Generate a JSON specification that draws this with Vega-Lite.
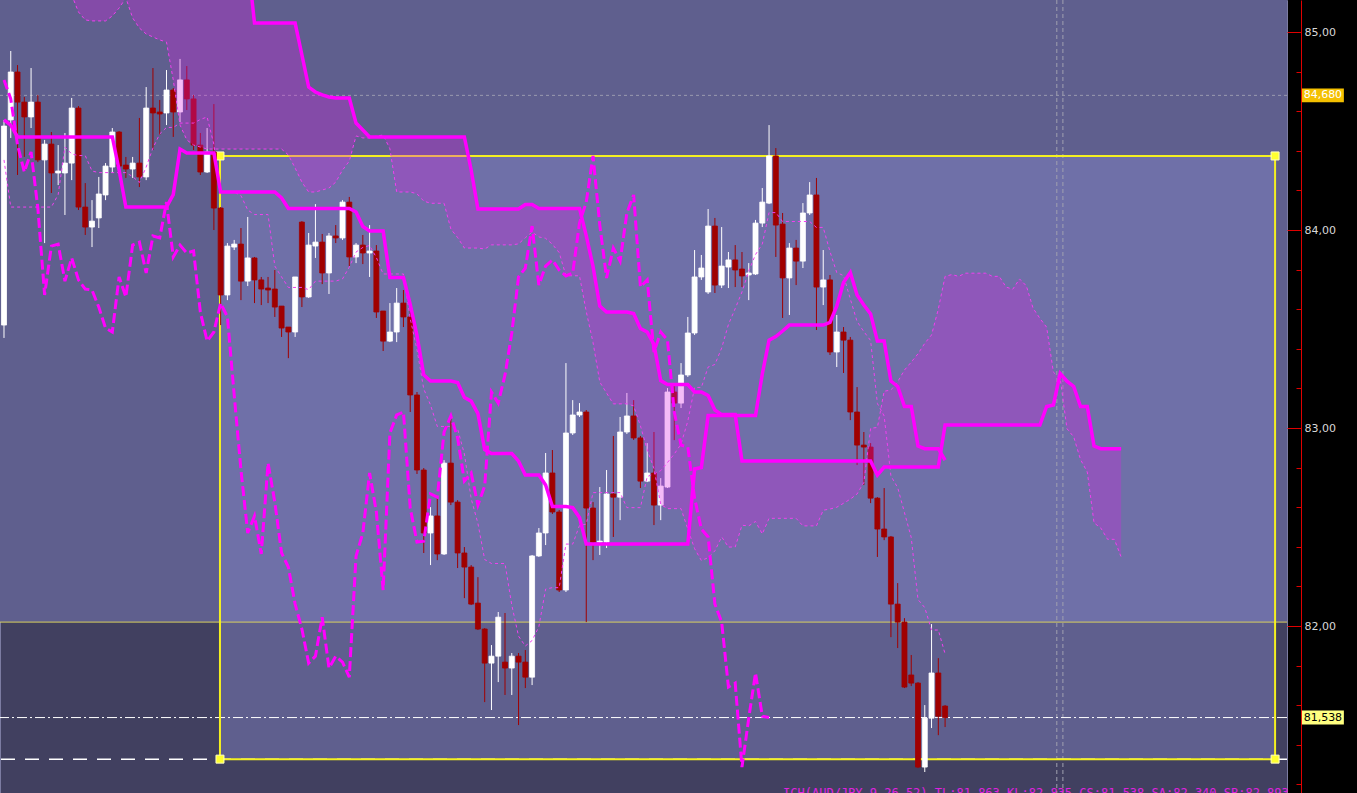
{
"$schema": "https://vega.github.io/schema/vega-lite/v6.json",
"width": 1287, "height": 793,
"autosize": {"type": "none"},
"padding": {"left": 0, "top": 0, "right": 70, "bottom": 0},
"background": "#000000",
"config": {"view": {"fill": "#414060", "stroke": "#7c7ca2", "strokeWidth": 1}},
"datasets": {
"zones": [
{"x1": -0.59, "x2": 189.5, "y1": 82.02, "y2": 85.3, "z": "mid"},
{"x1": 31.9, "x2": 187.74, "y1": 82.02, "y2": 84.374, "z": "light"},
{"x1": 31.9, "x2": 187.74, "y1": 81.328, "y2": 82.02, "z": "mid"}
],
"box": [{"x1": 31.9, "x2": 187.74, "y1": 81.328, "y2": 84.374}],
"handles": [{"i": 31.9, "p": 84.374}, {"i": 187.74, "p": 84.374}, {"i": 31.9, "p": 81.328}, {"i": 187.74, "p": 81.328}],
"vlines": [{"i": 155.5}, {"i": 156.4}],
"candles": [
{"i":0,"o":83.520,"h":84.556,"l":83.455,"c":84.525},
{"i":1,"o":84.556,"h":84.904,"l":84.465,"c":84.798},
{"i":2,"o":84.798,"h":84.833,"l":84.278,"c":84.646},
{"i":3,"o":84.646,"h":84.672,"l":84.369,"c":84.571},
{"i":4,"o":84.571,"h":84.818,"l":84.515,"c":84.646},
{"i":5,"o":84.646,"h":84.682,"l":84.343,"c":84.354},
{"i":6,"o":84.354,"h":84.455,"l":83.934,"c":84.434},
{"i":7,"o":84.434,"h":84.495,"l":84.187,"c":84.288},
{"i":8,"o":84.288,"h":84.429,"l":84.227,"c":84.298},
{"i":9,"o":84.288,"h":84.490,"l":84.076,"c":84.338},
{"i":10,"o":84.338,"h":84.667,"l":84.252,"c":84.616},
{"i":11,"o":84.616,"h":84.626,"l":84.101,"c":84.116},
{"i":12,"o":84.116,"h":84.237,"l":83.975,"c":84.015},
{"i":13,"o":84.015,"h":84.151,"l":83.914,"c":84.045},
{"i":14,"o":84.061,"h":84.268,"l":84.010,"c":84.182},
{"i":15,"o":84.177,"h":84.338,"l":84.151,"c":84.323},
{"i":16,"o":84.318,"h":84.515,"l":84.288,"c":84.495},
{"i":17,"o":84.495,"h":84.500,"l":84.278,"c":84.323},
{"i":18,"o":84.328,"h":84.369,"l":84.263,"c":84.308},
{"i":19,"o":84.308,"h":84.369,"l":84.263,"c":84.338},
{"i":20,"o":84.338,"h":84.566,"l":84.217,"c":84.268},
{"i":21,"o":84.268,"h":84.722,"l":84.252,"c":84.616},
{"i":22,"o":84.616,"h":84.818,"l":84.404,"c":84.591},
{"i":23,"o":84.596,"h":84.657,"l":84.480,"c":84.586},
{"i":24,"o":84.591,"h":84.808,"l":84.530,"c":84.707},
{"i":25,"o":84.707,"h":84.717,"l":84.470,"c":84.596},
{"i":26,"o":84.596,"h":84.864,"l":84.545,"c":84.758},
{"i":27,"o":84.758,"h":84.828,"l":84.606,"c":84.662},
{"i":28,"o":84.662,"h":84.682,"l":84.404,"c":84.429},
{"i":29,"o":84.429,"h":84.490,"l":84.278,"c":84.293},
{"i":30,"o":84.293,"h":84.515,"l":84.288,"c":84.394},
{"i":31,"o":84.394,"h":84.636,"l":84.000,"c":84.111},
{"i":32,"o":84.111,"h":84.116,"l":83.520,"c":83.672},
{"i":33,"o":83.672,"h":83.934,"l":83.646,"c":83.919},
{"i":34,"o":83.914,"h":83.950,"l":83.899,"c":83.929},
{"i":35,"o":83.929,"h":84.010,"l":83.646,"c":83.742},
{"i":36,"o":83.742,"h":84.066,"l":83.717,"c":83.859},
{"i":37,"o":83.859,"h":83.864,"l":83.631,"c":83.748},
{"i":38,"o":83.748,"h":83.763,"l":83.621,"c":83.702},
{"i":39,"o":83.707,"h":83.763,"l":83.631,"c":83.697},
{"i":40,"o":83.702,"h":83.798,"l":83.561,"c":83.611},
{"i":41,"o":83.616,"h":83.616,"l":83.460,"c":83.505},
{"i":42,"o":83.510,"h":83.510,"l":83.353,"c":83.485},
{"i":43,"o":83.485,"h":83.763,"l":83.460,"c":83.763},
{"i":44,"o":84.040,"h":84.045,"l":83.611,"c":83.662},
{"i":45,"o":83.662,"h":83.985,"l":83.657,"c":83.924},
{"i":46,"o":83.919,"h":84.131,"l":83.859,"c":83.939},
{"i":47,"o":83.939,"h":83.980,"l":83.727,"c":83.783},
{"i":48,"o":83.783,"h":83.985,"l":83.677,"c":83.970},
{"i":49,"o":83.970,"h":84.025,"l":83.934,"c":83.960},
{"i":50,"o":83.960,"h":84.151,"l":83.950,"c":84.141},
{"i":51,"o":84.141,"h":84.167,"l":83.818,"c":83.864},
{"i":52,"o":83.864,"h":83.934,"l":83.833,"c":83.924},
{"i":53,"o":83.924,"h":83.975,"l":83.828,"c":83.884},
{"i":54,"o":83.884,"h":84.025,"l":83.763,"c":83.894},
{"i":55,"o":83.894,"h":83.924,"l":83.556,"c":83.586},
{"i":56,"o":83.591,"h":83.591,"l":83.389,"c":83.439},
{"i":57,"o":83.439,"h":83.631,"l":83.434,"c":83.485},
{"i":58,"o":83.485,"h":83.707,"l":83.434,"c":83.631},
{"i":59,"o":83.631,"h":83.697,"l":83.510,"c":83.561},
{"i":60,"o":83.561,"h":83.596,"l":83.081,"c":83.167},
{"i":61,"o":83.167,"h":83.182,"l":82.768,"c":82.788},
{"i":62,"o":82.788,"h":82.798,"l":82.369,"c":82.470},
{"i":63,"o":82.470,"h":82.601,"l":82.308,"c":82.556},
{"i":64,"o":82.556,"h":82.651,"l":82.333,"c":82.364},
{"i":65,"o":82.364,"h":82.838,"l":82.359,"c":82.823},
{"i":66,"o":82.823,"h":83.056,"l":82.611,"c":82.626},
{"i":67,"o":82.626,"h":82.636,"l":82.293,"c":82.369},
{"i":68,"o":82.369,"h":82.399,"l":82.141,"c":82.298},
{"i":69,"o":82.298,"h":82.308,"l":82.106,"c":82.111},
{"i":70,"o":82.116,"h":82.247,"l":81.980,"c":81.985},
{"i":71,"o":81.985,"h":81.990,"l":81.616,"c":81.813},
{"i":72,"o":81.813,"h":81.904,"l":81.576,"c":81.848},
{"i":73,"o":81.848,"h":82.071,"l":81.717,"c":82.045},
{"i":74,"o":81.818,"h":82.066,"l":81.652,"c":81.788},
{"i":75,"o":81.788,"h":81.864,"l":81.652,"c":81.848},
{"i":76,"o":81.848,"h":81.864,"l":81.500,"c":81.818},
{"i":77,"o":81.818,"h":81.879,"l":81.687,"c":81.742},
{"i":78,"o":81.742,"h":82.359,"l":81.702,"c":82.354},
{"i":79,"o":82.354,"h":82.495,"l":82.349,"c":82.470},
{"i":80,"o":82.470,"h":82.874,"l":82.409,"c":82.773},
{"i":81,"o":82.773,"h":82.889,"l":82.566,"c":82.576},
{"i":82,"o":82.576,"h":82.586,"l":82.172,"c":82.182},
{"i":83,"o":82.182,"h":83.328,"l":82.172,"c":82.975},
{"i":84,"o":82.975,"h":83.141,"l":82.965,"c":83.066},
{"i":85,"o":83.066,"h":83.126,"l":83.056,"c":83.081},
{"i":86,"o":83.081,"h":83.091,"l":82.020,"c":82.596},
{"i":87,"o":82.596,"h":82.626,"l":82.333,"c":82.424},
{"i":88,"o":82.424,"h":82.702,"l":82.359,"c":82.429},
{"i":89,"o":82.424,"h":82.788,"l":82.394,"c":82.667},
{"i":90,"o":82.667,"h":82.960,"l":82.450,"c":82.651},
{"i":91,"o":82.651,"h":83.056,"l":82.535,"c":82.980},
{"i":92,"o":82.980,"h":83.177,"l":82.970,"c":83.061},
{"i":93,"o":83.061,"h":83.141,"l":82.940,"c":82.950},
{"i":94,"o":82.950,"h":82.960,"l":82.697,"c":82.732},
{"i":95,"o":82.732,"h":82.924,"l":82.727,"c":82.773},
{"i":96,"o":82.773,"h":82.980,"l":82.510,"c":82.611},
{"i":97,"o":82.611,"h":82.747,"l":82.535,"c":82.707},
{"i":98,"o":82.702,"h":83.202,"l":82.697,"c":83.182},
{"i":99,"o":83.182,"h":83.227,"l":82.939,"c":83.126},
{"i":100,"o":83.126,"h":83.328,"l":83.101,"c":83.268},
{"i":101,"o":83.268,"h":83.561,"l":83.258,"c":83.480},
{"i":102,"o":83.480,"h":83.899,"l":83.470,"c":83.763},
{"i":103,"o":83.763,"h":83.874,"l":83.748,"c":83.808},
{"i":104,"o":83.687,"h":84.106,"l":83.677,"c":84.020},
{"i":105,"o":84.020,"h":84.061,"l":83.682,"c":83.722},
{"i":106,"o":83.722,"h":84.015,"l":83.707,"c":83.818},
{"i":107,"o":83.813,"h":83.889,"l":83.707,"c":83.849},
{"i":108,"o":83.849,"h":83.924,"l":83.712,"c":83.798},
{"i":109,"o":83.803,"h":83.889,"l":83.712,"c":83.768},
{"i":110,"o":83.773,"h":83.833,"l":83.646,"c":83.783},
{"i":111,"o":83.778,"h":84.051,"l":83.773,"c":84.035},
{"i":112,"o":84.035,"h":84.212,"l":84.015,"c":84.141},
{"i":113,"o":84.136,"h":84.530,"l":84.131,"c":84.374},
{"i":114,"o":84.374,"h":84.414,"l":83.864,"c":84.025},
{"i":115,"o":84.030,"h":84.086,"l":83.556,"c":83.758},
{"i":116,"o":83.758,"h":83.934,"l":83.571,"c":83.909},
{"i":117,"o":83.909,"h":83.950,"l":83.722,"c":83.843},
{"i":118,"o":83.843,"h":84.136,"l":83.808,"c":84.086},
{"i":119,"o":84.086,"h":84.242,"l":84.076,"c":84.177},
{"i":120,"o":84.177,"h":84.263,"l":83.495,"c":83.712},
{"i":121,"o":83.712,"h":83.899,"l":83.621,"c":83.748},
{"i":122,"o":83.748,"h":83.773,"l":83.369,"c":83.384},
{"i":123,"o":83.384,"h":83.571,"l":83.308,"c":83.485},
{"i":124,"o":83.485,"h":83.510,"l":83.278,"c":83.444},
{"i":125,"o":83.444,"h":83.460,"l":83.040,"c":83.081},
{"i":126,"o":83.081,"h":83.207,"l":82.813,"c":82.914},
{"i":127,"o":82.914,"h":82.980,"l":82.712,"c":82.904},
{"i":128,"o":82.904,"h":82.924,"l":82.621,"c":82.646},
{"i":129,"o":82.646,"h":82.651,"l":82.349,"c":82.490},
{"i":130,"o":82.490,"h":82.697,"l":82.434,"c":82.450},
{"i":131,"o":82.450,"h":82.455,"l":81.944,"c":82.111},
{"i":132,"o":82.111,"h":82.217,"l":81.889,"c":82.020},
{"i":133,"o":82.020,"h":82.040,"l":81.687,"c":81.692},
{"i":134,"o":81.753,"h":81.854,"l":81.697,"c":81.712},
{"i":135,"o":81.712,"h":81.717,"l":81.283,"c":81.288},
{"i":136,"o":81.288,"h":81.601,"l":81.263,"c":81.535},
{"i":137,"o":81.535,"h":82.010,"l":81.485,"c":81.763},
{"i":138,"o":81.763,"h":81.838,"l":81.449,"c":81.545},
{"i":139,"o":81.596,"h":81.601,"l":81.490,"c":81.538}
],
"kijun": [
{"i":0,"p":84.556},{"i":1,"p":84.530},{"i":2,"p":84.470},{"i":16,"p":84.470},{"i":17,"p":84.303},{"i":18,"p":84.116},{"i":24,"p":84.116},{"i":25,"p":84.179},{"i":26,"p":84.409},{"i":27,"p":84.389},{"i":31,"p":84.389},{"i":32,"p":84.192},{"i":40,"p":84.192},{"i":41,"p":84.162},{"i":42,"p":84.109},{"i":51,"p":84.109},{"i":52,"p":84.091},{"i":53,"p":84.018},{"i":54,"p":83.995},{"i":56,"p":83.995},{"i":57,"p":83.760},{"i":59,"p":83.760},{"i":60,"p":83.624},{"i":61,"p":83.467},{"i":62,"p":83.268},{"i":63,"p":83.237},{"i":66,"p":83.237},{"i":67,"p":83.230},{"i":68,"p":83.154},{"i":69,"p":83.136},{"i":70,"p":83.073},{"i":71,"p":82.891},{"i":72,"p":82.871},{"i":75,"p":82.871},{"i":76,"p":82.833},{"i":77,"p":82.763},{"i":79,"p":82.763},{"i":80,"p":82.712},{"i":81,"p":82.604},{"i":83,"p":82.604},{"i":84,"p":82.598},{"i":85,"p":82.548},{"i":86,"p":82.414},{"i":101,"p":82.414},{"i":102,"p":82.793},{"i":103,"p":82.801},{"i":104,"p":83.063},{"i":111,"p":83.063},{"i":112,"p":83.273},{"i":113,"p":83.444},{"i":114,"p":83.462},{"i":115,"p":83.490},{"i":116,"p":83.520},{"i":121,"p":83.520},{"i":122,"p":83.533},{"i":123,"p":83.616},{"i":124,"p":83.735},{"i":125,"p":83.785},{"i":126,"p":83.672},{"i":127,"p":83.621},{"i":128,"p":83.576},{"i":129,"p":83.439},{"i":130,"p":83.439},{"i":131,"p":83.237},{"i":132,"p":83.210},{"i":133,"p":83.109},{"i":134,"p":83.109},{"i":135,"p":82.909},{"i":136,"p":82.896},{"i":138,"p":82.896},{"i":139,"p":82.838}
],
"tenkan": [
{"i":0,"p":84.354},{"i":1,"p":84.116},{"i":7,"p":84.116},{"i":8,"p":84.179},{"i":9,"p":84.419},{"i":10,"p":84.384},{"i":11,"p":84.376},{"i":12,"p":84.376},{"i":13,"p":84.298},{"i":14,"p":84.290},{"i":18,"p":84.290},{"i":19,"p":84.270},{"i":20,"p":84.240},{"i":21,"p":84.318},{"i":22,"p":84.414},{"i":23,"p":84.485},{"i":24,"p":84.518},{"i":25,"p":84.518},{"i":26,"p":84.540},{"i":28,"p":84.540},{"i":29,"p":84.558},{"i":30,"p":84.571},{"i":31,"p":84.432},{"i":32,"p":84.192},{"i":34,"p":84.192},{"i":35,"p":84.174},{"i":36,"p":84.101},{"i":37,"p":84.078},{"i":39,"p":84.078},{"i":40,"p":83.818},{"i":41,"p":83.763},{"i":42,"p":83.710},{"i":44,"p":83.710},{"i":45,"p":83.699},{"i":46,"p":83.742},{"i":49,"p":83.742},{"i":50,"p":83.753},{"i":51,"p":83.813},{"i":52,"p":83.889},{"i":53,"p":83.912},{"i":54,"p":83.922},{"i":55,"p":83.861},{"i":56,"p":83.778},{"i":59,"p":83.778},{"i":60,"p":83.553},{"i":61,"p":83.396},{"i":62,"p":83.197},{"i":63,"p":83.116},{"i":64,"p":83.008},{"i":66,"p":83.008},{"i":67,"p":82.995},{"i":68,"p":82.869},{"i":69,"p":82.644},{"i":70,"p":82.518},{"i":71,"p":82.336},{"i":72,"p":82.316},{"i":74,"p":82.316},{"i":75,"p":82.106},{"i":76,"p":81.949},{"i":77,"p":81.899},{"i":78,"p":81.927},{"i":79,"p":81.997},{"i":80,"p":82.187},{"i":81,"p":82.194},{"i":82,"p":82.194},{"i":83,"p":82.414},{"i":84,"p":82.414},{"i":85,"p":82.508},{"i":86,"p":82.515},{"i":87,"p":82.674},{"i":91,"p":82.674},{"i":92,"p":82.598},{"i":94,"p":82.598},{"i":95,"p":82.755},{"i":96,"p":82.768},{"i":97,"p":82.785},{"i":98,"p":82.826},{"i":99,"p":82.869},{"i":100,"p":82.919},{"i":101,"p":83.035},{"i":102,"p":83.205},{"i":103,"p":83.205},{"i":104,"p":83.308},{"i":105,"p":83.321},{"i":106,"p":83.404},{"i":107,"p":83.523},{"i":108,"p":83.603},{"i":109,"p":83.687},{"i":110,"p":83.793},{"i":111,"p":83.876},{"i":112,"p":83.929},{"i":113,"p":84.088},{"i":114,"p":84.088},{"i":115,"p":84.043},{"i":119,"p":84.043},{"i":120,"p":84.013},{"i":121,"p":84.013},{"i":122,"p":83.891},{"i":123,"p":83.785},{"i":124,"p":83.770},{"i":125,"p":83.652},{"i":126,"p":83.538},{"i":127,"p":83.487},{"i":128,"p":83.442},{"i":129,"p":83.124},{"i":130,"p":83.061},{"i":131,"p":82.758},{"i":132,"p":82.699},{"i":133,"p":82.573},{"i":134,"p":82.447},{"i":135,"p":82.134},{"i":136,"p":82.093},{"i":137,"p":81.980},{"i":138,"p":81.980},{"i":139,"p":81.859}
],
"chikou": [
{"i":0,"p":84.758},{"i":1,"p":84.662},{"i":2,"p":84.429},{"i":3,"p":84.293},{"i":4,"p":84.394},{"i":5,"p":84.111},{"i":6,"p":83.672},{"i":7,"p":83.919},{"i":8,"p":83.929},{"i":9,"p":83.742},{"i":10,"p":83.859},{"i":11,"p":83.748},{"i":12,"p":83.702},{"i":13,"p":83.697},{"i":14,"p":83.611},{"i":15,"p":83.505},{"i":16,"p":83.485},{"i":17,"p":83.763},{"i":18,"p":83.662},{"i":19,"p":83.924},{"i":20,"p":83.939},{"i":21,"p":83.783},{"i":22,"p":83.970},{"i":23,"p":83.960},{"i":24,"p":84.141},{"i":25,"p":83.864},{"i":26,"p":83.924},{"i":27,"p":83.884},{"i":28,"p":83.894},{"i":29,"p":83.586},{"i":30,"p":83.439},{"i":31,"p":83.485},{"i":32,"p":83.631},{"i":33,"p":83.561},{"i":34,"p":83.167},{"i":35,"p":82.788},{"i":36,"p":82.470},{"i":37,"p":82.556},{"i":38,"p":82.364},{"i":39,"p":82.823},{"i":40,"p":82.626},{"i":41,"p":82.369},{"i":42,"p":82.298},{"i":43,"p":82.111},{"i":44,"p":81.985},{"i":45,"p":81.813},{"i":46,"p":81.848},{"i":47,"p":82.045},{"i":48,"p":81.788},{"i":49,"p":81.848},{"i":50,"p":81.818},{"i":51,"p":81.742},{"i":52,"p":82.354},{"i":53,"p":82.470},{"i":54,"p":82.773},{"i":55,"p":82.576},{"i":56,"p":82.182},{"i":57,"p":82.975},{"i":58,"p":83.066},{"i":59,"p":83.081},{"i":60,"p":82.596},{"i":61,"p":82.424},{"i":62,"p":82.429},{"i":63,"p":82.667},{"i":64,"p":82.651},{"i":65,"p":82.980},{"i":66,"p":83.061},{"i":67,"p":82.950},{"i":68,"p":82.732},{"i":69,"p":82.773},{"i":70,"p":82.611},{"i":71,"p":82.707},{"i":72,"p":83.182},{"i":73,"p":83.126},{"i":74,"p":83.268},{"i":75,"p":83.480},{"i":76,"p":83.763},{"i":77,"p":83.808},{"i":78,"p":84.020},{"i":79,"p":83.722},{"i":80,"p":83.818},{"i":81,"p":83.849},{"i":82,"p":83.798},{"i":83,"p":83.768},{"i":84,"p":83.783},{"i":85,"p":84.035},{"i":86,"p":84.141},{"i":87,"p":84.374},{"i":88,"p":84.025},{"i":89,"p":83.758},{"i":90,"p":83.909},{"i":91,"p":83.843},{"i":92,"p":84.086},{"i":93,"p":84.177},{"i":94,"p":83.712},{"i":95,"p":83.748},{"i":96,"p":83.384},{"i":97,"p":83.485},{"i":98,"p":83.444},{"i":99,"p":83.081},{"i":100,"p":82.914},{"i":101,"p":82.904},{"i":102,"p":82.646},{"i":103,"p":82.490},{"i":104,"p":82.450},{"i":105,"p":82.111},{"i":106,"p":82.020},{"i":107,"p":81.692},{"i":108,"p":81.712},{"i":109,"p":81.288},{"i":110,"p":81.535},{"i":111,"p":81.763},{"i":112,"p":81.545},{"i":113,"p":81.538}
],
"cloud": [
{"i":0,"sa":85.30,"sb":85.40},{"i":9,"sa":85.30,"sb":85.40},{"i":10,"sa":85.187,"sb":85.40},{"i":11,"sa":85.101,"sb":85.40},{"i":12,"sa":85.061,"sb":85.40},{"i":13,"sa":85.056,"sb":85.40},{"i":15,"sa":85.056,"sb":85.40},{"i":16,"sa":85.081,"sb":85.40},{"i":17,"sa":85.121,"sb":85.40},{"i":18,"sa":85.172,"sb":85.40},{"i":19,"sa":85.071,"sb":85.40},{"i":20,"sa":85.020,"sb":85.40},{"i":21,"sa":84.990,"sb":85.40},{"i":22,"sa":84.975,"sb":85.40},{"i":23,"sa":84.960,"sb":85.40},{"i":24,"sa":84.949,"sb":85.40},{"i":25,"sa":84.758,"sb":85.40},{"i":26,"sa":84.530,"sb":85.40},{"i":27,"sa":84.455,"sb":85.40},{"i":28,"sa":84.429,"sb":85.40},{"i":29,"sa":84.419,"sb":85.40},{"i":30,"sa":84.409,"sb":85.40},{"i":35,"sa":84.409,"sb":85.40},{"i":36,"sa":84.409,"sb":85.364},{"i":37,"sa":84.409,"sb":85.045},{"i":41,"sa":84.409,"sb":85.045},{"i":42,"sa":84.379,"sb":85.045},{"i":43,"sa":84.313,"sb":85.045},{"i":44,"sa":84.242,"sb":84.884},{"i":45,"sa":84.192,"sb":84.722},{"i":46,"sa":84.192,"sb":84.697},{"i":47,"sa":84.202,"sb":84.682},{"i":48,"sa":84.212,"sb":84.672},{"i":49,"sa":84.242,"sb":84.667},{"i":50,"sa":84.303,"sb":84.667},{"i":51,"sa":84.348,"sb":84.667},{"i":52,"sa":84.475,"sb":84.540},{"i":53,"sa":84.465,"sb":84.505},{"i":54,"sa":84.465,"sb":84.470},{"i":55,"sa":84.474,"sb":84.470},{"i":56,"sa":84.480,"sb":84.470},{"i":57,"sa":84.410,"sb":84.470},{"i":58,"sa":84.192,"sb":84.470},{"i":60,"sa":84.192,"sb":84.470},{"i":61,"sa":84.183,"sb":84.470},{"i":62,"sa":84.146,"sb":84.470},{"i":63,"sa":84.135,"sb":84.470},{"i":65,"sa":84.135,"sb":84.470},{"i":66,"sa":84.005,"sb":84.470},{"i":67,"sa":83.962,"sb":84.470},{"i":68,"sa":83.909,"sb":84.470},{"i":69,"sa":83.909,"sb":84.303},{"i":70,"sa":83.909,"sb":84.106},{"i":71,"sa":83.904,"sb":84.106},{"i":72,"sa":83.925,"sb":84.106},{"i":75,"sa":83.925,"sb":84.106},{"i":76,"sa":83.930,"sb":84.106},{"i":77,"sa":83.961,"sb":84.129},{"i":78,"sa":83.990,"sb":84.129},{"i":79,"sa":83.965,"sb":84.109},{"i":80,"sa":83.958,"sb":84.109},{"i":81,"sa":83.928,"sb":84.109},{"i":82,"sa":83.886,"sb":84.109},{"i":83,"sa":83.769,"sb":84.109},{"i":85,"sa":83.769,"sb":84.109},{"i":86,"sa":83.588,"sb":83.972},{"i":87,"sa":83.432,"sb":83.816},{"i":88,"sa":83.232,"sb":83.616},{"i":89,"sa":83.177,"sb":83.586},{"i":90,"sa":83.122,"sb":83.586},{"i":92,"sa":83.122,"sb":83.586},{"i":93,"sa":83.112,"sb":83.578},{"i":94,"sa":83.011,"sb":83.503},{"i":95,"sa":82.890,"sb":83.485},{"i":96,"sa":82.795,"sb":83.422},{"i":97,"sa":82.614,"sb":83.240},{"i":98,"sa":82.593,"sb":83.220},{"i":100,"sa":82.593,"sb":83.220},{"i":101,"sa":82.489,"sb":83.220},{"i":102,"sa":82.391,"sb":83.182},{"i":103,"sa":82.331,"sb":83.182},{"i":104,"sa":82.345,"sb":83.164},{"i":105,"sa":82.380,"sb":83.091},{"i":106,"sa":82.450,"sb":83.068},{"i":107,"sa":82.399,"sb":83.068},{"i":108,"sa":82.399,"sb":83.068},{"i":109,"sa":82.509,"sb":82.833},{"i":110,"sa":82.506,"sb":82.833},{"i":111,"sa":82.528,"sb":82.833},{"i":112,"sa":82.465,"sb":82.833},{"i":113,"sa":82.544,"sb":82.833},{"i":117,"sa":82.544,"sb":82.833},{"i":118,"sa":82.506,"sb":82.833},{"i":120,"sa":82.506,"sb":82.833},{"i":121,"sa":82.585,"sb":82.833},{"i":122,"sa":82.591,"sb":82.833},{"i":123,"sa":82.600,"sb":82.833},{"i":124,"sa":82.620,"sb":82.833},{"i":125,"sa":82.641,"sb":82.833},{"i":126,"sa":82.667,"sb":82.833},{"i":127,"sa":82.725,"sb":82.833},{"i":128,"sa":82.999,"sb":82.833},{"i":129,"sa":83.003,"sb":82.763},{"i":130,"sa":83.186,"sb":82.803},{"i":131,"sa":83.192,"sb":82.803},{"i":132,"sa":83.234,"sb":82.803},{"i":133,"sa":83.293,"sb":82.803},{"i":134,"sa":83.333,"sb":82.803},{"i":135,"sa":83.375,"sb":82.803},{"i":136,"sa":83.428,"sb":82.803},{"i":137,"sa":83.470,"sb":82.803},{"i":138,"sa":83.601,"sb":82.803},{"i":139,"sa":83.766,"sb":83.015},{"i":140,"sa":83.775,"sb":83.015},{"i":141,"sa":83.766,"sb":83.015},{"i":142,"sa":83.782,"sb":83.015},{"i":145,"sa":83.782,"sb":83.015},{"i":146,"sa":83.766,"sb":83.015},{"i":147,"sa":83.766,"sb":83.015},{"i":148,"sa":83.712,"sb":83.015},{"i":149,"sa":83.701,"sb":83.015},{"i":150,"sa":83.753,"sb":83.015},{"i":151,"sa":83.718,"sb":83.015},{"i":152,"sa":83.605,"sb":83.015},{"i":153,"sa":83.554,"sb":83.015},{"i":154,"sa":83.509,"sb":83.109},{"i":155,"sa":83.282,"sb":83.116},{"i":156,"sa":83.250,"sb":83.275},{"i":157,"sa":82.997,"sb":83.237},{"i":158,"sa":82.955,"sb":83.210},{"i":159,"sa":82.841,"sb":83.109},{"i":160,"sa":82.778,"sb":83.109},{"i":161,"sa":82.521,"sb":82.909},{"i":162,"sa":82.495,"sb":82.896},{"i":163,"sa":82.438,"sb":82.896},{"i":164,"sa":82.438,"sb":82.896},{"i":165,"sa":82.349,"sb":82.896}
],
"tags": [
{"i": 194.8, "x1": 191.7, "x2": 197.9, "p": 84.68, "y1": 84.645, "y2": 84.715, "t": "84,680", "k": "a"},
{"i": 194.8, "x1": 191.7, "x2": 197.9, "p": 81.538, "y1": 81.503, "y2": 81.573, "t": "81,538", "k": "b"}
],
"legendline": [{"i": 115.07, "p": 81.18, "t": "ICH(AUD/JPY,9,26,52) TL:81.863 KL:82.835 CS:81.538 SA:82.340 SB:82.893"}]
},
"layer": [
{
"data": {"name": "zones"},
"mark": {"type": "rect", "clip": true},
"encoding": {
"x": {"field": "x1", "type": "quantitative", "scale": {"domain": [-0.59, 189.5], "nice": false, "zero": false, "padding": 0}, "axis": null},
"x2": {"field": "x2"},
"y": {"field": "y1", "type": "quantitative", "scale": {"domain": [81.157, 85.1616], "nice": false, "zero": false, "padding": 0},
"axis": {"orient": "right", "title": null, "offset": 14, "grid": false,
"values": [81.2,81.25,81.3,81.35,81.4,81.45,81.5,81.55,81.6,81.65,81.7,81.75,81.8,81.85,81.9,81.95,82,82.05,82.1,82.15,82.2,82.25,82.3,82.35,82.4,82.45,82.5,82.55,82.6,82.65,82.7,82.75,82.8,82.85,82.9,82.95,83,83.05,83.1,83.15,83.2,83.25,83.3,83.35,83.4,83.45,83.5,83.55,83.6,83.65,83.7,83.75,83.8,83.85,83.9,83.95,84,84.05,84.1,84.15,84.2,84.25,84.3,84.35,84.4,84.45,84.5,84.55,84.6,84.65,84.7,84.75,84.8,84.85,84.9,84.95,85,85.05,85.1,85.15],
"labelExpr": "abs(datum.value*2 - round(datum.value*2)) < 0.001 ? replace(format(datum.value, '.2f'), '.', ',') : ''",
"tickSize": {"condition": {"test": "abs(datum.value*2 - round(datum.value*2)) < 0.001", "value": -14}, "value": -5},
"tickColor": "#e00000", "tickWidth": 1,
"domainColor": "#e00000", "domainWidth": 1,
"labelColor": "#d8d8d8", "labelFont": "DejaVu Sans", "labelFontSize": 11, "labelPadding": 17,
"labelOverlap": false, "labelBound": false, "labelFlush": false}},
"y2": {"field": "y2"},
"color": {"condition": {"test": "datum.z == 'light'", "value": "#6f70a8"}, "value": "#5f5f8e"}
}
},
{
"data": {"values": [{"p": 84.68}]},
"mark": {"type": "rule", "color": "#9a9ab0", "strokeWidth": 1, "strokeDash": [3, 3]},
"encoding": {"y": {"field": "p", "type": "quantitative"}}
},
{
"data": {"name": "vlines"},
"mark": {"type": "rule", "color": "#a0a0b0", "strokeWidth": 1, "strokeDash": [4, 3]},
"encoding": {"x": {"field": "i", "type": "quantitative", "axis": null}}
},
{
"data": {"values": [{"p": 82.02}]},
"mark": {"type": "rule", "color": "#d8d060", "strokeWidth": 1},
"encoding": {"y": {"field": "p", "type": "quantitative"}}
},
{
"data": {"values": [{"p": 81.538}]},
"mark": {"type": "rule", "color": "#ffffff", "strokeWidth": 1, "strokeDash": [10, 3, 2, 3]},
"encoding": {"y": {"field": "p", "type": "quantitative"}}
},
{
"data": {"values": [{"p": 81.328}]},
"mark": {"type": "rule", "color": "#ffffff", "strokeWidth": 1.5, "strokeDash": [14, 10]},
"encoding": {"y": {"field": "p", "type": "quantitative"}}
},
{
"data": {"name": "box"},
"mark": {"type": "rect", "fill": null, "fillOpacity": 0, "stroke": "#f4f020", "strokeWidth": 2},
"encoding": {
"x": {"field": "x1", "type": "quantitative", "axis": null}, "x2": {"field": "x2"},
"y": {"field": "y1", "type": "quantitative"}, "y2": {"field": "y2"}
}
},
{
"data": {"name": "handles"},
"mark": {"type": "point", "shape": "square", "size": 64, "filled": true, "color": "#ffff30", "stroke": "#ffffc0", "strokeWidth": 1, "opacity": 1},
"encoding": {
"x": {"field": "i", "type": "quantitative", "axis": null},
"y": {"field": "p", "type": "quantitative"}
}
},
{
"data": {"name": "candles"},
"mark": {"type": "rule", "strokeWidth": 1, "clip": true},
"encoding": {
"x": {"field": "i", "type": "quantitative", "axis": null},
"y": {"field": "l", "type": "quantitative"},
"y2": {"field": "h"},
"color": {"condition": {"test": "datum.c >= datum.o", "value": "#ffffff"}, "value": "#a00000"}
}
},
{
"data": {"name": "candles"},
"mark": {"type": "bar", "size": 5, "strokeWidth": 0.8, "clip": true},
"encoding": {
"x": {"field": "i", "type": "quantitative", "axis": null},
"y": {"field": "o", "type": "quantitative"},
"y2": {"field": "c"},
"color": {"condition": {"test": "datum.c >= datum.o", "value": "#ffffff"}, "value": "#a00000"},
"stroke": {"condition": {"test": "datum.c >= datum.o", "value": "#ffffff"}, "value": "#a00000"}
}
},
{
"data": {"name": "cloud"},
"mark": {"type": "area", "color": "#dc1ee6", "opacity": 0.3, "clip": true},
"encoding": {
"x": {"field": "i", "type": "quantitative", "axis": null},
"y": {"field": "sa", "type": "quantitative"},
"y2": {"field": "sb"}
}
},
{
"data": {"name": "cloud"},
"mark": {"type": "line", "color": "#f040f0", "strokeWidth": 1, "strokeDash": [3, 3], "clip": true},
"encoding": {
"x": {"field": "i", "type": "quantitative", "axis": null},
"y": {"field": "sa", "type": "quantitative"}
}
},
{
"data": {"name": "tenkan"},
"mark": {"type": "line", "color": "#f040f0", "strokeWidth": 1, "strokeDash": [3, 3], "clip": true},
"encoding": {
"x": {"field": "i", "type": "quantitative", "axis": null},
"y": {"field": "p", "type": "quantitative"}
}
},
{
"data": {"name": "kijun"},
"mark": {"type": "line", "color": "#ff00ff", "strokeWidth": 3.5, "clip": true},
"encoding": {
"x": {"field": "i", "type": "quantitative", "axis": null},
"y": {"field": "p", "type": "quantitative"}
}
},
{
"data": {"name": "cloud"},
"mark": {"type": "line", "color": "#ff00ff", "strokeWidth": 3.5, "clip": true},
"encoding": {
"x": {"field": "i", "type": "quantitative", "axis": null},
"y": {"field": "sb", "type": "quantitative"}
}
},
{
"data": {"name": "chikou"},
"mark": {"type": "line", "color": "#ff00ff", "strokeWidth": 3, "strokeDash": [10, 4], "clip": true},
"encoding": {
"x": {"field": "i", "type": "quantitative", "axis": null},
"y": {"field": "p", "type": "quantitative"}
}
},
{
"data": {"name": "tags"},
"mark": {"type": "rect"},
"encoding": {
"x": {"field": "x1", "type": "quantitative", "axis": null}, "x2": {"field": "x2"},
"y": {"field": "y1", "type": "quantitative"}, "y2": {"field": "y2"},
"color": {"condition": {"test": "datum.k == 'a'", "value": "#f4c000"}, "value": "#ffff80"}
}
},
{
"data": {"name": "tags"},
"mark": {"type": "text", "font": "DejaVu Sans", "fontSize": 11, "align": "center", "baseline": "middle"},
"encoding": {
"x": {"field": "i", "type": "quantitative", "axis": null},
"y": {"field": "p", "type": "quantitative"},
"text": {"field": "t"},
"color": {"condition": {"test": "datum.k == 'a'", "value": "#ffffff"}, "value": "#000000"}
}
},
{
"data": {"name": "legendline"},
"mark": {"type": "text", "font": "DejaVu Sans Mono", "fontSize": 12, "align": "left", "baseline": "top", "color": "#e020e0"},
"encoding": {
"x": {"field": "i", "type": "quantitative", "axis": null},
"y": {"field": "p", "type": "quantitative"},
"text": {"field": "t"}
}
}
]
}
